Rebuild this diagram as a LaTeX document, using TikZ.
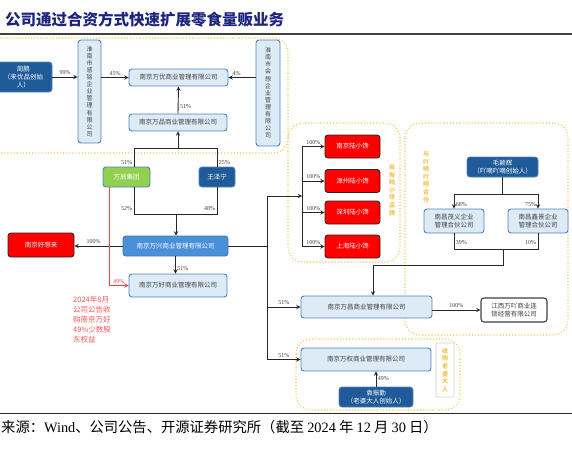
\documentclass[tikz,border=0pt]{standalone}
\usepackage{fontspec}
\setmainfont{Noto Sans CJK SC}
\newfontfamily\serif{Liberation Serif}
\usepackage{xcolor}
\usetikzlibrary{arrows,positioning,calc}
\definecolor{titleblue}{RGB}{28,36,128}
\definecolor{boxfill}{RGB}{221,235,247}
\definecolor{boxedge}{RGB}{79,129,189}
\definecolor{darkblue}{RGB}{31,91,152}
\definecolor{midblue}{RGB}{74,144,217}
\definecolor{leafgreen}{RGB}{146,208,80}
\definecolor{textgray}{RGB}{64,64,64}
\definecolor{linegray}{RGB}{40,40,40}
\definecolor{zoneyellow}{RGB}{245,196,80}
\definecolor{redline}{RGB}{255,64,64}

\tikzset{
  lbox/.style={draw=boxedge, fill=boxfill, line width=0.9pt, rounded corners=3pt, text=textgray,
    font=\fontsize{6.5}{8}\selectfont, align=center, inner sep=1pt},
  dbox/.style={lbox, draw=darkblue!75!white, fill=darkblue, text=white},
  gbox/.style={lbox, fill=leafgreen, text=white},
  mbox/.style={lbox, draw=boxedge!90!black, fill=midblue, text=white},
  rbox/.style={lbox, draw=black!85, fill=red, text=white, minimum width=55pt, minimum height=23pt},
  wbox/.style={lbox, draw=black!75, fill=white, line width=1.1pt},
  vbox/.style={lbox, font=\fontsize{6}{7.1}\selectfont},
  pct/.style={font=\serif\fontsize{6}{7}\selectfont, text=textgray, inner sep=1.5pt},
  zone/.style={draw=zoneyellow, dotted, line width=1.1pt, rounded corners=15pt},
  zonetext/.style={text=zoneyellow, font=\bfseries\fontsize{6}{7.6}\selectfont, align=center, inner sep=0pt},
  wire/.style={draw=linegray, line width=0.9pt},
  link/.style={wire, ->, >=stealth},
}

\begin{document}
\begin{tikzpicture}[x=1pt, y=-1pt]
  \useasboundingbox (0,0) rectangle (572,460);

  % Title and rules
  \node[anchor=west, inner sep=0pt, text=titleblue, font=\bfseries\fontsize{15.5}{16}\selectfont] (title) at (5,20) {公司通过合资方式快速扩展零食量贩业务};
  \draw[draw=black!75, line width=1.2pt] (0,34) -- (572,34);
  \draw[draw=black!85, line width=0.8pt] (0,413) -- (572,413);
  \node[anchor=west, inner sep=0pt, text=black, font=\fontsize{14.3}{16}\selectfont] (source) at (1,427)
    {来源：{\serif Wind}、公司公告、开源证券研究所（截至 {\serif 2024} 年 {\serif 12} 月 {\serif 30} 日）};

  % Dotted zones
  \draw[zone] (-20,38) rectangle (288,153);
  \draw[zone] (288,123) rectangle (400,262);
  \draw[zone] (405,123) rectangle (568,335);
  \draw[zone] (296,339) rectangle (460,410);
  \node[zonetext] (tlx) at (392,190) {自\\有\\陆\\小\\馋\\品\\牌};
  \node[zonetext] (tyd) at (426,177) {与\\吖\\嘀\\吖\\嘀\\合\\作};
  \node[zonetext, draw=black!18, fill=white, line width=0.6pt, minimum width=18pt, minimum height=54pt,
    rounded corners=1pt] (tlp) at (445,370) {收\\购\\老\\婆\\大\\人};

  % Upper holding structure
  \node[dbox, minimum width=57pt, minimum height=30pt] (zp) at (23.5,77) {周鹏\\（来优品创始\\人）};
  \node[vbox, minimum width=23pt, minimum height=103pt] (hnsm) at (89.5,91.5) {淮\\南\\市\\感\\铭\\企\\业\\管\\理\\有\\限\\公\\司};
  \node[vbox, minimum width=24pt, minimum height=106pt] (hnhx) at (268,93) {淮\\南\\市\\会\\想\\企\\业\\管\\理\\有\\限\\公\\司};
  \node[lbox, minimum width=99pt, minimum height=17pt] (wy) at (178.5,77.5) {南京万优商业管理有限公司};
  \node[lbox, minimum width=98pt, minimum height=17pt] (wp) at (178,122.5) {南京万品商业管理有限公司};

  \draw[link] (zp.east) -- (zp.east -| hnsm.west) node[pct, midway, above] {99\%};
  \draw[link] (hnsm.east |- wy.west) -- (wy.west) node[pct, midway, above] {45\%};
  \draw[link] (hnhx.west |- wy.east) -- (wy.east) node[pct, pos=0.7, above] {4\%};
  \draw[link] (wp.north) -- (wy.south) node[pct, pos=0.25, right] {51\%};

  % Shareholders
  \node[gbox, minimum width=47pt, minimum height=20pt] (wc) at (126.5,177) {万辰集团};
  \node[dbox, minimum width=36pt, minimum height=20pt] (wzn) at (217,177) {王泽宁};
  \coordinate (jtop) at (178,148);
  \coordinate (jbot) at (176,214);

  \draw[wire] ([xshift=7.5pt]wc.north) |- (jtop) node[pct, pos=0.1, left] {51\%};
  \draw[wire] (wzn.north) |- (jtop) node[pct, pos=0.1, right] {25\%};
  \draw[link] (jtop) -- (wp.south);
  \draw[wire] ([xshift=7.5pt]wc.south) |- (jbot) node[pct, pos=0.4, left] {52\%};
  \draw[wire] (wzn.south) |- (jbot) node[pct, pos=0.4, left] {48\%};

  % Main platform
  \node[mbox, minimum width=105pt, minimum height=20pt] (wx) at (175.5,246) {南京万兴商业管理有限公司};
  \node[rbox, minimum width=66pt, minimum height=24pt] (hxl) at (41,245) {南京好想来};
  \node[lbox, minimum width=98pt, minimum height=23pt] (wh) at (178,285.5) {南京万好商业管理有限公司};
  \node[anchor=north west, inner sep=0pt, align=left, text=redline!90, font=\fontsize{7.5}{10}\selectfont] (note) at (73,296)
    {2024年8月\\公司公告收\\购南京万好\\49\%少数股\\东权益};

  \draw[link] (jbot) -- (jbot |- wx.north);
  \draw[link] (wx.west) -- (wx.west -| hxl.east) node[pct, pos=0.6, above] {100\%};
  \draw[link] (wx.south) -- (wx.south |- wh.north) node[pct, pos=0.7, right] {51\%};
  \draw[link, draw=redline] ([xshift=-17.5pt]wc.south) |- (wh.west) node[pct, text=redline, pos=0.75, above] {49\%};

  % Trunk to the subsidiaries
  \coordinate (ttop) at (267,196);
  \coordinate (btop) at (302,146.5);
  \coordinate (bbot) at (302,246.5);
  \node[lbox, minimum width=131pt, minimum height=22pt] (wcg) at (366.5,307) {南京万昌商业管理有限公司};
  \node[lbox, minimum width=130pt, minimum height=23pt] (wq) at (366,359.5) {南京万权商业管理有限公司};
  \node[wbox, minimum width=66pt, minimum height=24pt] (jx) at (514,310) {江西万吖商业连\\锁经营有限公司};
  \node[dbox, minimum width=74pt, minimum height=20pt] (ydq) at (376,397) {袁振勤\\（老婆大人创始人）};

  \draw[wire] (wx.east) -- (wx.east -| ttop);
  \draw[wire] (ttop) -- (wq.west -| ttop);
  \draw[link] (ttop) -- (ttop -| btop);
  \draw[wire] (btop) -- (bbot);
  \foreach \name/\txt/\yy in {lx1/南京陆小馋/146.5, lx2/漳州陆小馋/181, lx3/深圳陆小馋/212.5, lx4/上海陆小馋/246.5} {
    \node[rbox] (\name) at (352.5,\yy) {\txt};
    \draw[link] (\name.west -| btop) -- (\name.west) node[pct, midway, above] {100\%};
  }
  \draw[link] (wcg.west -| ttop) -- (wcg.west) node[pct, midway, above] {51\%};
  \draw[link] (wq.west -| ttop) -- (wq.west) node[pct, midway, above] {51\%};
  \draw[link] (jx.west -| wcg.east) -- (jx.west) node[pct, midway, above] {100\%};
  \draw[link] (ydq.north) -- (ydq.north |- wq.south) node[pct, midway, right] {49\%};

  % Partnership with the other brand
  \node[dbox, minimum width=71pt, minimum height=20pt] (myh) at (502.5,167) {毛颖辉\\（吖嘀吖嘀创始人）};
  \node[lbox, minimum width=60pt, minimum height=24pt] (ncmy) at (454,221) {南昌茂义企业\\管理合伙公司};
  \node[lbox, minimum width=60pt, minimum height=24pt] (ncxj) at (538,221) {南昌鑫景企业\\管理合伙公司};
  \coordinate (msplit) at (502.5,194);
  \coordinate (mjoin) at (503,249);
  \coordinate (mturn) at (373,265);

  \draw[wire] (myh.south) -- (msplit);
  \draw[link] (msplit) -| (ncmy.north) node[pct, pos=0.85, right] {68\%};
  \draw[link] (msplit) -| (ncxj.north) node[pct, pos=0.85, left] {75\%};
  \draw[wire] (ncmy.south) |- (mjoin) node[pct, pos=0.3, right] {39\%};
  \draw[wire] (ncxj.south) |- (mjoin) node[pct, pos=0.3, left] {10\%};
  \draw[link] (mjoin) |- (mturn) -- (mturn |- wcg.north);

\end{tikzpicture}
\end{document}
